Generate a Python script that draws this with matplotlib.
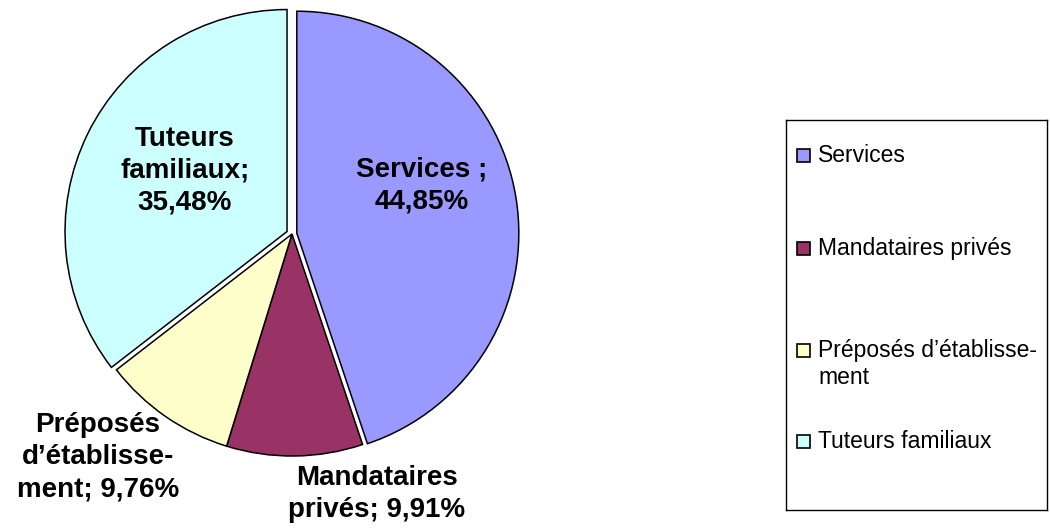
import matplotlib
matplotlib.use("Agg")
import matplotlib.pyplot as plt
from matplotlib.patches import Rectangle

plt.rcParams['font.family'] = ['Liberation Sans', 'DejaVu Sans']

categories = ["Services", "Mandataires privés", "Préposés d’établissement", "Tuteurs familiaux"]
shares = [44.85, 9.91, 9.76, 35.48]
slice_names = ["Services ;", "Mandataires\nprivés;", "Préposés\nd’établisse-\nment;", "Tuteurs\nfamiliaux;"]
legend_names = ["Services", "Mandataires privés", "Préposés d’établisse-\nment", "Tuteurs familiaux"]
colors = ["#9999FF", "#993366", "#FFFFCC", "#CCFFFF"]
explode = [0.022, 0, 0, 0.025]

# where each slice label sits, in pie units (radius = 1)
label_xy = [(0.585, 0.22), (0.383, -1.171), (-0.874, -1.005), (-0.482, 0.284)]
# how each label breaks its value onto the lines
value_sep = ["\n", " ", " ", "\n"]

W, H = 1050, 532
fig = plt.figure(figsize=(W / 100, H / 100), dpi=100)

cx, cy, r = 292, 234, 222
ax = fig.add_axes([(cx - r) / W, (H - cy - r) / H, 2 * r / W, 2 * r / H])
wedges, _ = ax.pie(shares, colors=colors, explode=explode, startangle=90,
                   counterclock=False,
                   wedgeprops=dict(edgecolor="black", linewidth=1.1))
ax.set_xlim(-1, 1)
ax.set_ylim(-1, 1)
ax.set_aspect("equal")
ax.axis("off")
for w in wedges:
    w.set_clip_on(False)

for name, v, sep, (x, y) in zip(slice_names, shares, value_sep, label_xy):
    txt = name + sep + f"{v:.2f}".replace(".", ",") + "%"
    ax.text(x, y, txt, ha="center", va="center", multialignment="center",
            fontsize=20, fontweight="bold", linespacing=1.3, clip_on=False)

# legend box
lx0, ly0, lx1, ly1 = 786, 120, 1047, 510
lax = fig.add_axes([lx0 / W, (H - ly1) / H, (lx1 - lx0) / W, (ly1 - ly0) / H])
lax.set_xlim(0, lx1 - lx0)
lax.set_ylim(ly1 - ly0, 0)
lax.set_xticks([])
lax.set_yticks([])
for s in lax.spines.values():
    s.set_linewidth(1.0)
    s.set_color("black")

row_y = [35, 128, 230, 321]
for name, c, y in zip(legend_names, colors, row_y):
    lax.add_patch(Rectangle((11, y - 6), 12.5, 12.5, facecolor=c, edgecolor="black", linewidth=1.2))
    lax.text(32, y - 11, name, ha="left", va="top", fontsize=16.5, linespacing=1.2)

fig.savefig("out.png", dpi=100)
